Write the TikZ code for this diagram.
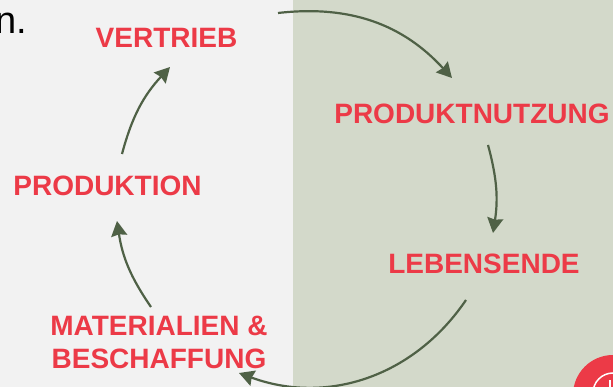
\documentclass[tikz,border=0pt]{standalone}
\usepackage{fontspec}
\setmainfont{Liberation Sans}
\usetikzlibrary{arrows.meta}
\definecolor{paleleft}{HTML}{F2F2F2}
\definecolor{paleright}{HTML}{D3D9CA}
\definecolor{stagered}{HTML}{EC3A47}
\definecolor{arcgreen}{HTML}{4F6146}
\tikzset{
	stage/.style={text=stagered, font=\fontsize{28}{33}\selectfont\bfseries, inner sep=0pt, anchor=base, align=center},
	cycle/.style={draw=arcgreen, line width=2.2pt, -{Stealth[length=15pt,width=16pt,inset=1.5pt]}}
}

\begin{document}
\begin{tikzpicture}[x=1pt,y=-1pt]
	\useasboundingbox (0,0) rectangle (613,387);
	\fill[paleleft] (0,0) rectangle (293,387);
	\fill[paleright] (293,0) rectangle (613,387);

	\node[anchor=base east, inner sep=0pt, font=\fontsize{38}{38}\selectfont] (rest) at (27.5,33.5) {n.};

	\node[stage] (vertrieb) at (166.5,47.5) {VERTRIEB};
	\node[stage] (nutzung) at (472,124) {PRODUKTNUTZUNG};
	\node[stage] (ende) at (484,274) {LEBENSENDE};
	\node[stage] (material) at (159,368.5) {MATERIALIEN \&\\BESCHAFFUNG};
	\node[stage] (produktion) at (107.5,196) {PRODUKTION};

	\coordinate (A1) at (122,154);
	\coordinate (A2) at (170,67);
	\coordinate (B1) at (278,13);
	\coordinate (B2) at (452,78);
	\coordinate (C1) at (488,145);
	\coordinate (C2) at (493,233);
	\coordinate (D1) at (466,300);
	\coordinate (D2) at (239,373);
	\coordinate (E1) at (151,307);
	\coordinate (E2) at (117,221);

	\draw[cycle] (A1) to[bend left=14] (A2);
	\draw[cycle] (B1) to[bend left=27] (B2);
	\draw[cycle] (C1) to[bend left=12] (C2);
	\draw[cycle] (D1) to[bend left=38] (D2);
	\draw[cycle] (E1) to[bend left=13] (E2);

	% badge in the corner
	\fill[stagered] (613,395) circle (40);
	\draw[white, line width=1.5pt] (613,393) circle (20);
	\draw[white, line width=2pt] (610,380) -- (610,387);
\end{tikzpicture}
\end{document}
